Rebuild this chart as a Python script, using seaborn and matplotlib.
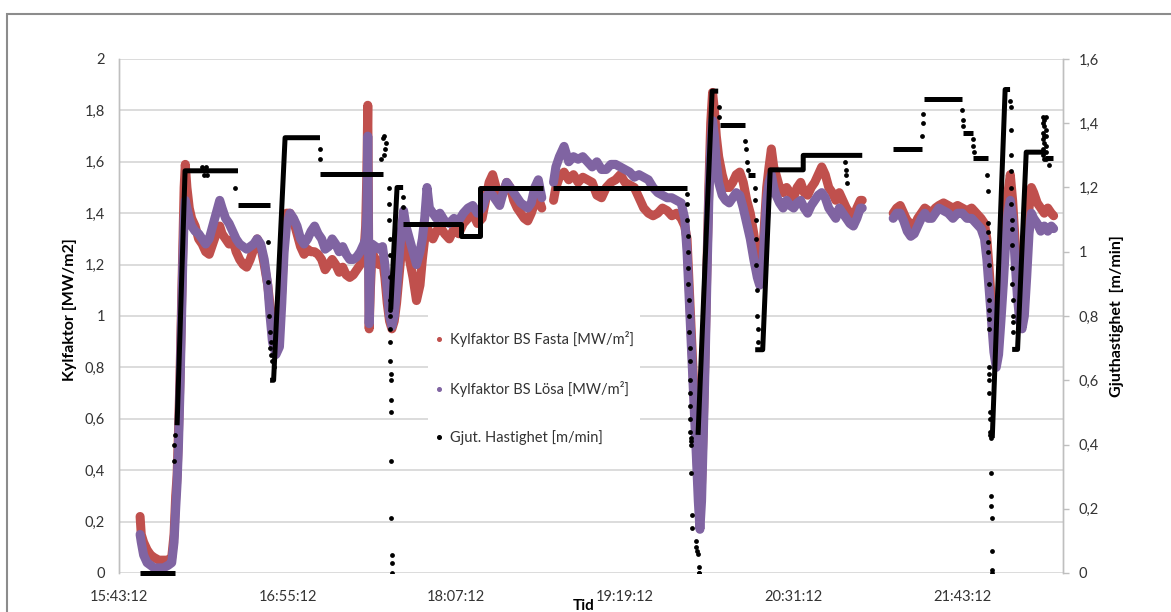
import matplotlib
matplotlib.use("Agg")
import numpy as np
import pandas as pd
import matplotlib.pyplot as plt
from matplotlib.ticker import FixedLocator, FuncFormatter, MultipleLocator
from matplotlib.lines import Line2D
from matplotlib.patches import Rectangle
import seaborn as sns

# Time axis: minutes after 15:43:12. None marks a break in the logging.
x_ticks = [0, 72, 144, 216, 288, 360]
x_tick_labels = ["15:43:12", "16:55:12", "18:07:12", "19:19:12", "20:31:12", "21:43:12"]

# Cooling factor samples [MW/m2]: shared time base, fixed and loose side
kyl_time = [
    9.0, 9.5, 10.5, 12, 13.5, 15, 17, 19, 21, 22.5,
    23.5, 24.2, 24.8, 25.4, 26, 26.6, 27.2, 27.8, 28.3, 29,
    30, 31, 32.5, 34, 35.5, 37, 38.5, 40, 41.5, 43,
    44, 45.5, 47, 48.5, 50, 51.5, 53, 54.5, 56, 57.5,
    59, 60.5, 62, 63.5, 64.5, 65.5, 67, 68.5, 69.5, 70.5,
    71.5, 73, 74.5, 76, 77.5, 79, 80.5, 82, 83.5, 85,
    86.5, 88, 89.5, 91, 92.5, 94, 95.5, 97, 98.5, 100,
    101.5, 103, 104.5, 105.3, 105.8, 106.2, 106.5, 106.8, 107.3, 108,
    109.5, 111, 112.5, 113.5, 114.5, 115.5, 116.5, 117.5, 118.5, 119.5,
    120.5, 121.5, 122.5, 124, 125.5, 127, 128.5, 129.5, 130.5, 131.5,
    132.5, 134, 135.5, 137, 139, 141, 143, 145, 147, 149,
    151, 153, 155, 156.5, 158, 159.5, 161, 162.5, 164, 165.5,
    167, 168.5, 170, 171.5, 173, 174.5, 176, 177.5, 179, 180.5,
    None,
    185.5, 186.5, 188, 190, 192, 194, 196, 198, 200, 202,
    204, 206, 208, 210, 212, 214, 216, 218, 220, 222,
    224, 226, 228, 230, 232, 234, 236, 238, 240, 241.5,
    242.5, 243.5, 244.5, 245.5, 246.5, 247.3, 248, 248.7, 249.5, 250.3,
    251, 251.8, 252.6, 253.4, 254.2, 255, 256, 257.5, 259, 260.5,
    262, 263.5, 265, 266.5, 268, 269.5, 271, 272.5, 273.5, 274.5,
    275.5, 276.5, 277.5, 278.5, 279.5, 280.5, 282, 283.5, 285, 286.5,
    288, 289.5, 291, 292.5, 294, 295.5, 297, 298.5, 300, 301.5,
    303, 304.5, 306, 307.5, 309, 310.5, 312, 313.5, 315, 316.5,
    317.3,
    None,
    330.5, 332, 333.5, 335, 336.5, 338, 339.5, 341, 342.5, 344,
    345.5, 347, 348.5, 350, 352, 354, 356, 358, 360, 362,
    364, 366, 368, 369.5, 370.5, 371.5, 372.5, 373.5, 374.5, 375.5,
    376.5, 377.5, 378.5, 379.5, 380.5, 381.5, 382.5, 383.5, 384.5, 385.5,
    386.5, 387.5, 388.5, 389.5, 390.5, 392, 393.5, 395, 396.5, 398,
    399,
]
kyl_fasta = [
    0.22, 0.15, 0.12, 0.09, 0.07, 0.06, 0.05, 0.05, 0.05, 0.06,
    0.15, 0.30, 0.38, 0.55, 0.75, 1.0, 1.25, 1.5, 1.59, 1.5,
    1.42, 1.38, 1.35, 1.3, 1.28, 1.25, 1.24, 1.28, 1.32, 1.35,
    1.32, 1.3, 1.28, 1.3, 1.25, 1.22, 1.2, 1.19, 1.22, 1.26,
    1.3, 1.27, 1.2, 1.12, 1.04, 0.98, 0.95, 0.98, 1.1, 1.3,
    1.4, 1.4, 1.37, 1.32, 1.27, 1.24, 1.26, 1.25, 1.25, 1.24,
    1.22, 1.18, 1.2, 1.22, 1.2, 1.17, 1.19, 1.16, 1.15, 1.16,
    1.18, 1.2, 1.24, 1.35, 1.55, 1.82, 1.4, 0.95, 1.1, 1.25,
    1.22, 1.2, 1.22, 1.15, 1.05, 0.98, 0.95, 0.98, 1.05, 1.15,
    1.25, 1.32, 1.28, 1.22, 1.15, 1.06, 1.12, 1.22, 1.3, 1.35,
    1.32, 1.3, 1.33, 1.35, 1.32, 1.3, 1.34, 1.32, 1.36, 1.38,
    1.4, 1.36, 1.38, 1.45, 1.52, 1.55, 1.5, 1.45, 1.48, 1.52,
    1.5, 1.45, 1.42, 1.4, 1.38, 1.37, 1.4, 1.44, 1.46, 1.42,
    None,
    1.45, 1.5, 1.54, 1.56, 1.53, 1.55, 1.52, 1.54, 1.53, 1.52,
    1.47, 1.46, 1.5, 1.52, 1.53, 1.55, 1.52, 1.51, 1.5, 1.46,
    1.42, 1.4, 1.39, 1.4, 1.42, 1.41, 1.39, 1.4, 1.38, 1.35,
    1.3, 1.1, 0.9, 0.7, 0.5, 0.35, 0.25, 0.35, 0.6, 0.9,
    1.2, 1.5, 1.75, 1.87, 1.8, 1.7, 1.62, 1.55, 1.5, 1.5,
    1.52, 1.55, 1.56, 1.52, 1.45, 1.4, 1.32, 1.22, 1.15, 1.2,
    1.35, 1.5, 1.58, 1.65, 1.58, 1.55, 1.5, 1.48, 1.5, 1.48,
    1.46, 1.5, 1.52, 1.48, 1.47, 1.5, 1.52, 1.55, 1.58, 1.55,
    1.5, 1.48, 1.45, 1.48, 1.45, 1.42, 1.4, 1.38, 1.42, 1.45,
    1.45,
    None,
    1.4, 1.42, 1.43, 1.4, 1.37, 1.36, 1.35, 1.38, 1.4, 1.42,
    1.41, 1.4, 1.42, 1.43, 1.44, 1.43, 1.42, 1.43, 1.42, 1.41,
    1.42, 1.4, 1.38, 1.36, 1.3, 1.18, 1.05, 0.92, 0.86, 0.9,
    1.05, 1.2, 1.35, 1.48, 1.55, 1.45, 1.3, 1.15, 1.05, 1.0,
    1.05, 1.25, 1.42, 1.5, 1.48, 1.44, 1.42, 1.4, 1.42, 1.4,
    1.39,
]
kyl_losa = [
    0.15, 0.12, 0.07, 0.04, 0.03, 0.02, 0.02, 0.02, 0.03, 0.04,
    0.12, 0.25, 0.35, 0.50, 0.70, 0.95, 1.2, 1.38, 1.45, 1.42,
    1.38, 1.35, 1.33, 1.32, 1.3, 1.28, 1.3, 1.35, 1.4, 1.45,
    1.42, 1.38, 1.36, 1.33, 1.3, 1.28, 1.27, 1.26, 1.27, 1.28,
    1.3, 1.28, 1.22, 1.12, 1.0, 0.9, 0.85, 0.88, 1.05, 1.25,
    1.35, 1.4, 1.38, 1.35, 1.3, 1.28, 1.3, 1.33, 1.35, 1.32,
    1.3, 1.26, 1.27, 1.3, 1.28, 1.25, 1.27, 1.24, 1.22, 1.22,
    1.23, 1.25, 1.28, 1.3, 1.4, 1.7, 1.3, 0.97, 1.15, 1.28,
    1.27, 1.26, 1.27, 1.2, 1.1, 1.0, 0.96, 1.0, 1.1, 1.22,
    1.33, 1.41, 1.35, 1.3, 1.25, 1.2, 1.25, 1.3, 1.38, 1.5,
    1.42, 1.4, 1.38, 1.4, 1.37, 1.36, 1.38, 1.37, 1.4, 1.42,
    1.43, 1.4, 1.42, 1.46, 1.48, 1.47, 1.45, 1.43, 1.48, 1.52,
    1.5, 1.48, 1.46, 1.44, 1.43, 1.42, 1.44, 1.5, 1.53, 1.46,
    None,
    1.52, 1.58, 1.62, 1.66, 1.6, 1.62, 1.61, 1.62, 1.6, 1.58,
    1.6, 1.57, 1.57, 1.59, 1.59, 1.58, 1.57, 1.56, 1.54, 1.55,
    1.54, 1.53, 1.5, 1.48, 1.47, 1.46, 1.46, 1.45, 1.44, 1.38,
    1.25, 1.05, 0.85, 0.65, 0.45, 0.28, 0.17, 0.28, 0.55, 0.85,
    1.15, 1.45, 1.65, 1.76, 1.7, 1.6, 1.52, 1.47, 1.45, 1.44,
    1.46, 1.48, 1.47, 1.42, 1.36, 1.3, 1.22, 1.15, 1.12, 1.15,
    1.3, 1.45, 1.52, 1.55, 1.5, 1.47, 1.44, 1.42, 1.45, 1.43,
    1.42, 1.44, 1.45, 1.42, 1.4, 1.43, 1.45, 1.47, 1.48, 1.46,
    1.42, 1.4, 1.38, 1.42, 1.4, 1.38, 1.36, 1.35, 1.38, 1.42,
    1.42,
    None,
    1.38, 1.4, 1.4, 1.37, 1.33, 1.31, 1.32, 1.35, 1.38, 1.4,
    1.38, 1.38, 1.4, 1.42, 1.41, 1.4, 1.38, 1.4, 1.4, 1.38,
    1.38, 1.36, 1.34, 1.3, 1.22, 1.1, 0.98, 0.86, 0.8, 0.85,
    0.98, 1.12, 1.28, 1.4, 1.45, 1.38, 1.22, 1.08, 0.98, 0.95,
    1.0, 1.15, 1.32, 1.4, 1.38, 1.36, 1.33, 1.35, 1.33, 1.35,
    1.34,
]

# Casting speed [m/min]: continuous stretches of the log
speed_time = [
    9, 24, None,
    24.8, 28.2, 50.8, None,
    50.8, 64.5, None,
    64.5, 66, 70.9, 85.8, None,
    85.8, 112.7, None,
    116, 118.7, 121.3, None,
    121.3, 146, 146, 154, 154, 181, None,
    185.3, 242.5, None,
    247.2, 253.2, 255.8, None,
    256.6, 267.3, None,
    268.6, 271.6, None,
    271.6, 274.8, 278, 292.1, 292.1, 317.3, None,
    330.5, 342.9, None,
    343.5, 360, None,
    360.3, 364.6, None,
    364.6, 371.1, None,
    372.8, 378.3, 380.4, None,
    381.3, 383.6, 387.3, 394.5, None,
    395.4, 398.8,
]
speed_value = [
    0, 0, None,
    0.46, 1.252, 1.252, None,
    1.145, 1.145, None,
    0.6, 0.6, 1.355, 1.355, None,
    1.242, 1.242, None,
    0.82, 1.2, 1.2, None,
    1.085, 1.085, 1.05, 1.05, 1.2, 1.2, None,
    1.2, 1.2, None,
    0.43, 1.5, 1.5, None,
    1.393, 1.393, None,
    1.24, 1.24, None,
    0.695, 0.695, 1.255, 1.255, 1.3, 1.3, None,
    1.32, 1.32, None,
    1.475, 1.475, None,
    1.37, 1.37, None,
    1.293, 1.293, None,
    0.42, 1.505, 1.505, None,
    0.696, 0.696, 1.31, 1.31, None,
    1.293, 1.293,
]

# Casting speed [m/min]: scattered samples during speed changes
speed_dot_time = [
    23.4, 23.6, 23.9,
    35.5, 36.5, 37.0, 37.5, 49.5,
    63.6, 63.8, 64.0, 64.3, 64.5, 64.8, 65.0, 65.5, 66.0,
    85.8, 85.9,
    112.0, 112.6, 113.3, 113.8, 113.4, 113.0,
    115.2, 115.3, 115.4, 115.5, 115.6, 115.6, 115.7, 115.7, 115.8, 115.8,
    115.9, 115.9, 116.0, 116.0, 116.1, 116.1, 116.2, 116.3, 116.4, 116.4, 116.5,
    121.3, 121.3,
    242.5, 242.5, 242.6, 243.0, 243.0, 243.1, 243.1, 243.2, 243.5, 243.5,
    243.6, 243.6, 243.7, 243.8, 243.8, 243.9, 243.9, 244.0, 244.0, 244.1,
    244.2, 244.5, 244.7, 246.3, 246.5, 246.7, 247.0, 247.4, 247.5, 247.6,
    256.0, 256.1,
    267.3, 267.6, 268.0, 268.4,
    271.6, 271.7, 271.8, 272.0, 272.1, 272.3, 272.4, 272.6, 272.8,
    310.0, 310.2, 310.4, 310.6,
    343.0, 343.1, 343.2,
    360.0, 360.1, 360.2,
    364.6, 364.7, 364.8,
    370.6, 370.8, 371.0, 371.0, 371.1, 371.1, 371.2, 371.2, 371.3, 371.3,
    371.4, 371.4, 371.5, 371.5, 371.6, 371.6, 371.7, 371.8, 371.9, 372.0,
    372.1, 372.2, 372.3, 372.4, 372.5, 372.6, 372.7, 372.8,
    380.5, 380.6, 380.7, 380.8, 380.9, 381.0, 381.0, 381.1, 381.2, 381.3,
    381.3, 381.4, 381.5, 381.6, 381.6, 381.7,
    394.4, 394.4, 394.4, 394.4, 394.4, 394.4,
    395.0, 395.0, 395.0, 395.0, 395.0, 395.0,
    395.6, 395.6, 395.6, 395.6, 395.6, 395.6,
    397.0,
]
speed_dot_value = [
    0.35, 0.40, 0.43,
    1.265, 1.24, 1.265, 1.24, 1.2,
    1.03, 0.905, 0.80, 0.75, 0.70, 0.72, 0.68, 0.66, 0.64,
    1.32, 1.29,
    1.29, 1.355, 1.36, 1.34, 1.32, 1.30,
    1.2, 1.15, 1.1, 1.04, 0.99, 0.92, 0.85, 0.82, 0.80, 0.76,
    0.72, 0.66, 0.62, 0.60, 0.54, 0.50, 0.35, 0.17, 0.056, 0.03, 0.0,
    1.17, 1.14,
    1.18, 1.15, 1.10, 1.05, 1.00, 0.95, 0.90, 0.85, 0.80, 0.75,
    0.70, 0.66, 0.60, 0.56, 0.52, 0.48, 0.44, 0.42, 0.41, 0.40,
    0.31, 0.18, 0.14, 0.10, 0.08, 0.07, 0.06, 0.02, 0.0, 0.0,
    1.45, 1.42,
    1.345, 1.32, 1.28, 1.255,
    1.2, 1.16, 1.1, 1.04, 0.96, 0.88, 0.80, 0.76, 0.72,
    1.28, 1.255, 1.24, 1.215,
    1.36, 1.40, 1.43,
    1.44, 1.41, 1.39,
    1.35, 1.33, 1.31,
    1.24, 1.19, 1.09, 1.06, 1.03, 1.00, 0.96, 0.90, 0.85, 0.82,
    0.79, 0.76, 0.64, 0.62, 0.60, 0.56, 0.50, 0.48, 0.44, 0.43,
    0.42, 0.31, 0.24, 0.21, 0.17, 0.07, 0.01, 0.0,
    1.47, 1.45, 1.38, 1.30, 1.25, 1.20, 1.15, 1.10, 1.07, 1.02,
    0.95, 0.90, 0.85, 0.80, 0.78, 0.75,
    1.42, 1.40, 1.37, 1.35, 1.32, 1.30,
    1.41, 1.39, 1.36, 1.34, 1.31, 1.29,
    1.42, 1.38, 1.36, 1.33, 1.31, 1.29,
    1.27,
]

series_labels = ["Kylfaktor BS Fasta [MW/m\u00b2]", "Kylfaktor BS L\u00f6sa [MW/m\u00b2]",
                 "Gjut. Hastighet [m/min]"]
RED, PURPLE, BLACK = "#C0504D", "#8064A2", "#000000"
GRID, AXIS, TEXT = "#D9D9D9", "#BFBFBF", "#333333"

assert len(kyl_time) == len(kyl_fasta) == len(kyl_losa)
assert len(speed_time) == len(speed_value)
assert len(speed_dot_time) == len(speed_dot_value)


def runs(time, *cols):
    """Frame with a run id that increases at every None break."""
    df = pd.DataFrame({"t": pd.to_numeric(pd.Series(time, dtype="object"))})
    for i, c in enumerate(cols):
        df[f"v{i}"] = pd.to_numeric(pd.Series(c, dtype="object"))
    df["run"] = df["t"].isna().cumsum()
    return df.dropna().reset_index(drop=True)


kyl = runs(kyl_time, kyl_fasta, kyl_losa)
speed = runs(speed_time, speed_value)
dots = pd.DataFrame({"t": speed_dot_time, "v": speed_dot_value})

sns.set_theme(style="white")
plt.rcParams["font.family"] = ["Lato", "DejaVu Sans"]

W, H = 1171, 612
fig = plt.figure(figsize=(W / 100, H / 100), dpi=100)
L, R, T, B = 119, 1063, 59, 573
ax1 = fig.add_axes([L / W, 1 - B / H, (R - L) / W, (B - T) / H])
ax2 = ax1.twinx()

# Cooling factor bands
for col, color in (("v0", RED), ("v1", PURPLE)):
    sns.lineplot(data=kyl, x="t", y=col, units="run", estimator=None, sort=False,
                 color=color, lw=6.5, solid_capstyle="round", solid_joinstyle="round",
                 ax=ax1, legend=False)

# Casting speed
sns.lineplot(data=speed, x="t", y="v0", units="run", estimator=None, sort=False,
             color=BLACK, lw=3.6, solid_capstyle="butt", ax=ax2, legend=False)
for ln in ax2.get_lines():
    ln.set_clip_on(False)
sns.scatterplot(data=dots, x="t", y="v", color=BLACK, s=12, linewidth=0, ax=ax2,
                legend=False)


def comma(v, pos):
    s = f"{v:.1f}"
    if s.endswith(".0"):
        s = s[:-2]
    return s.replace(".", ",")


ax1.set_xlim(0, 403)
ax1.set_ylim(0, 2)
ax2.set_ylim(0, 1.6)
ax1.xaxis.set_major_locator(FixedLocator(x_ticks))
ax1.set_xticklabels(x_tick_labels)
ax1.yaxis.set_major_locator(MultipleLocator(0.2))
ax2.yaxis.set_major_locator(MultipleLocator(0.2))
ax1.yaxis.set_major_formatter(FuncFormatter(comma))
ax2.yaxis.set_major_formatter(FuncFormatter(comma))

ax1.grid(axis="y", color=GRID, lw=1.3)
ax1.grid(axis="x", visible=False)
ax2.grid(False)
ax1.tick_params(axis="y", length=0, pad=10, labelsize=10.5, labelcolor=TEXT)
ax1.tick_params(axis="x", length=0, pad=12, labelsize=10.5, labelcolor=TEXT)
ax2.tick_params(axis="y", length=4, width=1, color=AXIS, pad=7, labelsize=10.5,
                labelcolor=TEXT, direction="out")

for ax in (ax1, ax2):
    for side in ("top", "bottom"):
        ax.spines[side].set_visible(False)
    ax.spines["left"].set_color(AXIS)
    ax.spines["right"].set_color(AXIS)
    ax.spines["left"].set_linewidth(1)
    ax.spines["right"].set_linewidth(1)

ax1.set_xlabel("")
ax1.set_ylabel("Kylfaktor [MW/m2]", fontsize=11.5, fontweight="bold", color="#000000")
ax1.yaxis.set_label_coords(-0.045, 0.512)
ax2.set_ylabel("Gjuthastighet  [m/min]", fontsize=11.5, fontweight="bold",
               color="#000000", rotation=90)
ax2.yaxis.set_label_coords(1.05, 0.5)
# Axis title just under the time labels, kept inside the canvas
fig.text(584 / W, 1 - 610 / H, "Tid", ha="center", va="baseline", fontsize=11,
         fontweight="bold", color="#000000")

# Legend on a white panel inside the plot area
ax2.add_patch(Rectangle((0.327, 0.215), 0.225, 0.33, transform=ax2.transAxes,
                        facecolor="white", edgecolor="none", zorder=5))
handles = [Line2D([], [], ls="", marker="o", markersize=2.6, color=c)
           for c in (RED, PURPLE, BLACK)]
leg = ax2.legend(handles, series_labels, loc="upper left",
                 bbox_to_anchor=(0.3347, 0.470), frameon=False, fontsize=10.5,
                 labelspacing=2.3, handlelength=0.6, handletextpad=0.45,
                 borderpad=0, borderaxespad=0)
leg.set_zorder(6)
for txt in leg.get_texts():
    txt.set_color(TEXT)

# Outer chart frame
fig.add_artist(Rectangle((7 / W, -0.1), 1.2, (1 - 14 / H) + 0.1,
                         transform=fig.transFigure, fill=False,
                         edgecolor="#8C8C8C", lw=1.5))

fig.savefig("out.png", dpi=100, facecolor="white")
